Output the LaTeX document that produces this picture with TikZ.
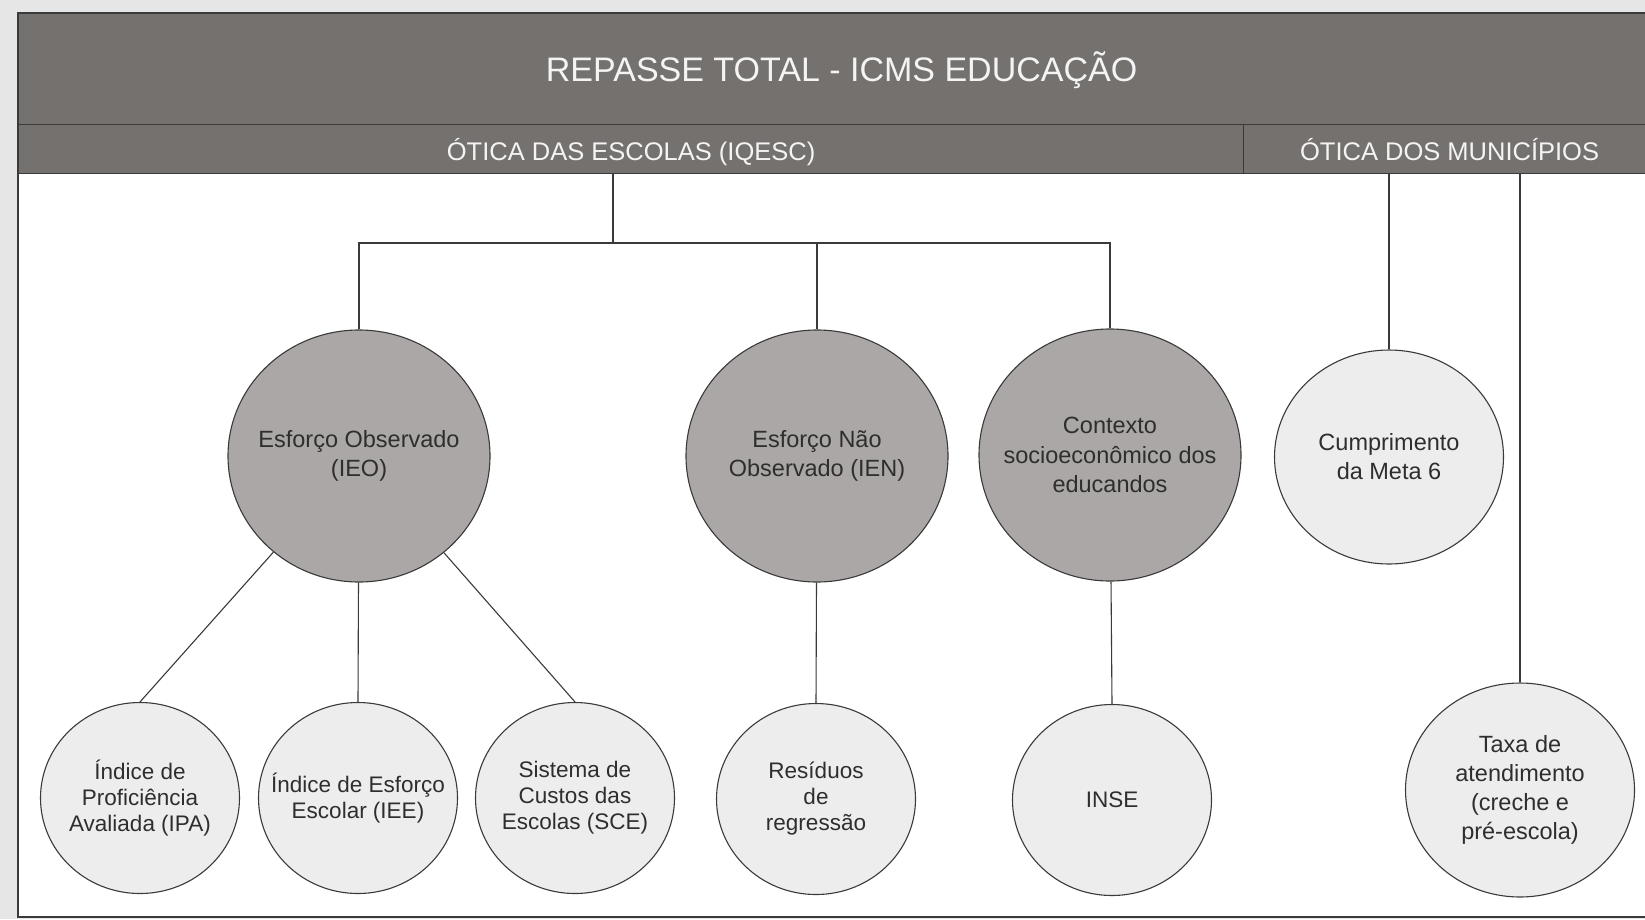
\documentclass[tikz,border=0pt]{standalone}
\usepackage{fontspec}
\setmainfont{Liberation Sans}
\usetikzlibrary{positioning, shapes.geometric}

\definecolor{headgray}{HTML}{75716F}
\definecolor{bigfill}{HTML}{ABA7A6}
\definecolor{smallfill}{HTML}{EDEDED}
\definecolor{pagegray}{HTML}{E6E6E6}
\definecolor{txtgray}{HTML}{2E2E2E}
\definecolor{headtxt}{HTML}{F4F4F4}
\definecolor{linegray}{HTML}{3A3A3A}

\begin{document}
\begin{tikzpicture}[
        x=1pt, y=-1pt,
        % Define styles for consistency
        band/.style={draw=linegray, fill=headgray, text=headtxt, line width=1.2pt, inner sep=0pt,
            anchor=north west, text depth=0pt},
        bigcirc/.style={ellipse, draw=linegray, fill=bigfill, line width=1.1pt,
            inner xsep=-60pt, inner ysep=-20pt,
            minimum width=262pt, minimum height=252pt, text=txtgray, align=center,
            font=\fontsize{23.5}{29.4}\selectfont},
        smallcirc/.style={ellipse, draw=linegray, fill=smallfill, line width=1.1pt,
            inner xsep=-60pt, inner ysep=-20pt,
            minimum width=199pt, minimum height=191pt, text=txtgray, align=center,
            font=\fontsize{22.5}{26}\selectfont},
        muncirc/.style={smallcirc, minimum width=229pt, minimum height=214pt,
            font=\fontsize{23.5}{29}\selectfont},
        link/.style={linegray, line width=1.1pt}
    ]

        % --- Page and frame ---
        \useasboundingbox (0,0) rectangle (1645,919);
        \fill[pagegray] (0,0) rectangle (1645,919);
        \draw[linegray, fill=white, line width=1.2pt] (18,13) rectangle (1664,917);

        % --- Header bands ---
        \node[band, minimum width=1646pt, minimum height=111pt, text height=25pt,
            font=\fontsize{34}{40}\selectfont] (title) at (18,13) {REPASSE TOTAL - ICMS EDUCAÇÃO};
        \node[band, minimum width=1225pt, minimum height=49pt, text height=23pt,
            font=\fontsize{25.5}{30}\selectfont] (escolas) at (18,124) {ÓTICA DAS ESCOLAS (IQESC)};
        \node[band, minimum width=412pt, minimum height=49pt, text height=23pt,
            font=\fontsize{25.5}{30}\selectfont] (municipios) at (1243,124) {ÓTICA DOS MUNICÍPIOS};

        % --- Coordinates ---
        \coordinate (hub) at (613,243);

        % --- Middle level ---
        \node[bigcirc] (ieo) at (359,456) {Esforço Observado\\(IEO)};
        \node[bigcirc] (ien) at (817,456) {Esforço Não\\Observado (IEN)};
        \node[bigcirc] (ctx) at (1110,455) {Contexto\\socioeconômico dos\\educandos};
        \node[muncirc] (meta) at (1389,457) {Cumprimento\\da Meta 6};

        % --- Bottom level ---
        \node[smallcirc] (ipa) at (140,798) {Índice de\\Proficiência\\Avaliada (IPA)};
        \node[smallcirc] (iee) at (358,798) {Índice de Esforço\\Escolar (IEE)};
        \node[smallcirc] (sce) at (575,798) {Sistema de\\Custos das\\Escolas (SCE)};
        \node[smallcirc] (res) at (816,799) {Resíduos\\de\\regressão};
        \node[smallcirc] (inse) at (1112,800) {INSE};
        \node[muncirc] (taxa) at (1520,790) {Taxa de\\atendimento\\(creche e\\pré-escola)};

        % --- Draw Edges ---
        % Schools tree
        \draw[link] (hub |- escolas.south) -- (hub);
        \draw[link] (ieo.north) -- (ieo |- hub) -- (ctx |- hub) -- (ctx.north);
        \draw[link] (ien |- hub) -- (ien.north);

        % Effort branches
        \draw[link] (ieo) -- (ipa.north);
        \draw[link] (ieo) -- (iee.north);
        \draw[link] (ieo) -- (sce.north);
        \draw[link] (ien) -- (res.north);
        \draw[link] (ctx) -- (inse.north);

        % Municipal branches
        \draw[link] (meta |- municipios.south) -- (meta.north);
        \draw[link] (taxa |- municipios.south) -- (taxa.north);

    \end{tikzpicture}
\end{document}
